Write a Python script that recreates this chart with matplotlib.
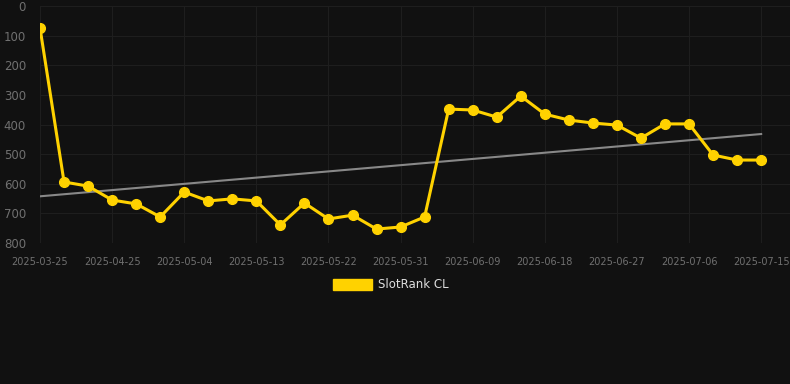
import datetime as dt
import numpy as np
import matplotlib
matplotlib.use("Agg")
import matplotlib.pyplot as plt
from matplotlib.patches import Patch

# category dates (x axis is categorical, one slot per sample)
start = dt.date(2025, 4, 25)
dates = ["2025-03-25", "2025-04-19", "2025-04-22"] + \
        [(start + dt.timedelta(days=3 * i)).isoformat() for i in range(28)]

# SlotRank CL rank values (lower is better)
ranks = [74, 594, 608, 655, 668, 712, 628, 658, 651, 658,
         739, 665, 719, 706, 753, 746, 712, 348, 351, 375,
         304, 365, 385, 395, 402, 446, 398, 398, 503, 520, 520]

bg = "#111111"
gold = "#FFD200"

fig = plt.figure(figsize=(7.9, 3.84), dpi=100, facecolor=bg)
ax = fig.add_axes([40 / 790, 1 - 243 / 384, 750 / 790, 237 / 384])
ax.set_facecolor(bg)

x = np.arange(len(ranks))
ax.plot(x, ranks, color=gold, lw=2.2, marker="o", ms=7, zorder=3)

# linear trend
k, b = np.polyfit(x, ranks, 1)
ax.plot(x, k * x + b, color="#888888", lw=1.5, zorder=2)

ax.set_xlim(0, 31.2)
ax.set_ylim(800, 0)
ax.set_yticks(range(0, 801, 100))
ax.set_xticks(x[::3])
ax.set_xticklabels([dates[i] for i in x[::3]])
ax.tick_params(axis="y", colors="#707070", labelsize=8.5, length=0, pad=10)
ax.tick_params(axis="x", colors="#707070", labelsize=7, length=0, pad=10)
ax.grid(True, color="#1e1e1e", lw=0.8)
for s in ax.spines.values():
    s.set_visible(False)

fig.legend(handles=[Patch(color=gold, label="SlotRank CL")],
           loc="center", bbox_to_anchor=(0.495, 1 - 285 / 384),
           frameon=False, labelcolor="#dddddd", fontsize=8.5,
           handlelength=3.3, handleheight=1.0, handletextpad=0.5)

fig.savefig("out.png", dpi=100, facecolor=bg)
